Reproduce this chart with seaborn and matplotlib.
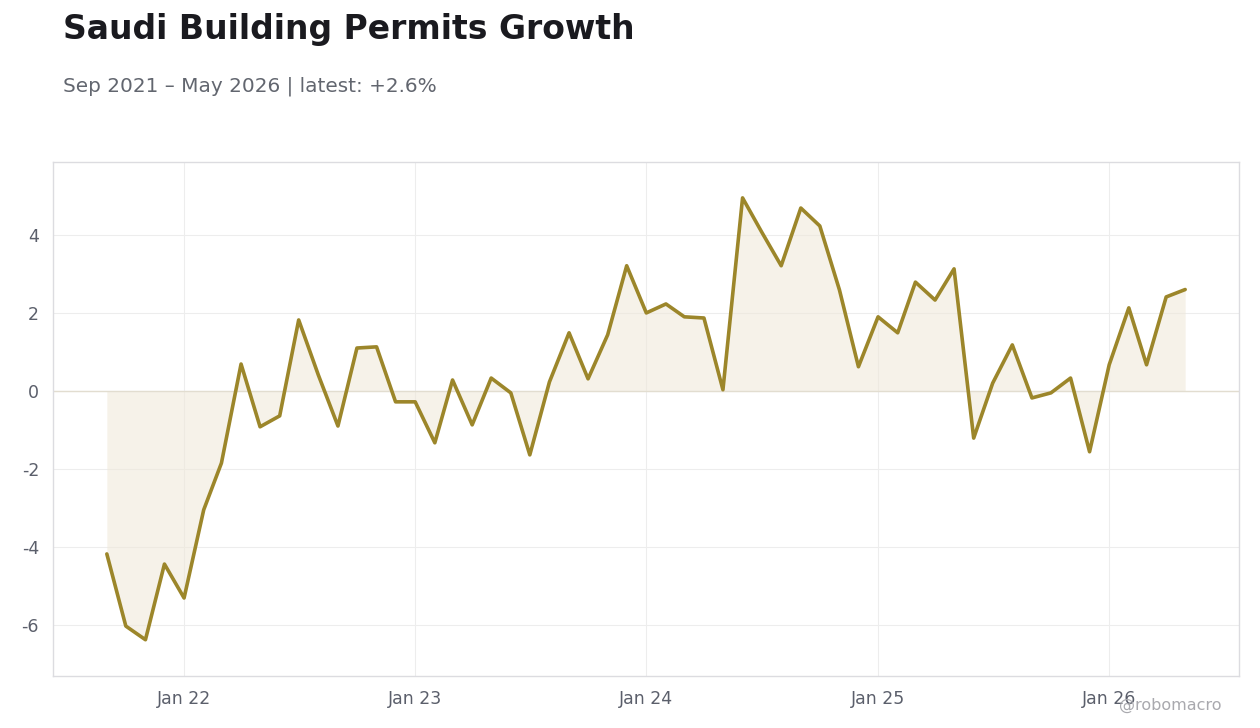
import numpy as np
import pandas as pd
import matplotlib
matplotlib.use("Agg")
import matplotlib.pyplot as plt
import matplotlib.dates as mdates
import seaborn as sns

# ---- data ----
start_month = "2021-09-01"
values = [
    -4.18, -6.03, -6.38, -4.44, -5.31, -3.05, -1.85, 0.69, -0.92, -0.64,
    1.82, 0.41, -0.90, 1.10, 1.13, -0.28, -0.28, -1.33, 0.28, -0.87,
    0.33, -0.05, -1.64, 0.23, 1.49, 0.31, 1.44, 3.21, 2.00, 2.23,
    1.90, 1.87, 0.03, 4.95, 4.08, 3.21, 4.69, 4.23, 2.59, 0.62,
    1.90, 1.49, 2.79, 2.33, 3.13, -1.21, 0.20, 1.18, -0.18, -0.05,
    0.33, -1.56, 0.67, 2.13, 0.67, 2.41, 2.60,
]
title = "Saudi Building Permits Growth"
subtitle = "Sep 2021 – May 2026 | latest: +2.6%"
watermark = "@robomacro"
y_ticks = [-6, -4, -2, 0, 2, 4]

dates = pd.date_range(start_month, periods=len(values), freq="MS")
df = pd.DataFrame({"date": dates, "value": values})

# ---- style ----
sns.set_theme(style="white")
plt.rcParams["font.family"] = ["DejaVu Sans"]
plt.rcParams["axes.unicode_minus"] = False

line_color = "#9C862A"
fill_color = "#EFE8D8"
text_gray = "#5B5F6B"
grid_color = "#EDEDED"
spine_color = "#DCDCE0"

fig = plt.figure(figsize=(12.6, 7.28), dpi=100)
ax = fig.add_axes([53 / 1260, 1 - 676 / 728, (1239 - 53) / 1260, (676 - 162) / 728])

ax.fill_between(df["date"], 0, df["value"], color=fill_color, alpha=0.55, linewidth=0)
ax.axhline(0, color="#E2DDD0", linewidth=1, zorder=1)
sns.lineplot(data=df, x="date", y="value", ax=ax, color=line_color, linewidth=2.6, zorder=3)

ax.set_xlim(pd.Timestamp("2021-06-08"), pd.Timestamp("2026-07-25"))
ax.set_ylim(-7.31, 5.87)
ax.set_yticks(y_ticks)
ax.set_yticklabels([str(t) for t in y_ticks])
ax.xaxis.set_major_locator(mdates.YearLocator(month=1, day=1))
ax.xaxis.set_major_formatter(mdates.DateFormatter("Jan %y"))
ax.set_xlabel("")
ax.set_ylabel("")

ax.grid(True, color=grid_color, linewidth=0.8)
ax.set_axisbelow(True)
for s in ax.spines.values():
    s.set_color(spine_color)
    s.set_linewidth(1.0)
ax.tick_params(axis="both", colors=spine_color, labelcolor=text_gray, labelsize=12.5,
               length=4, width=1, pad=6)

fig.text(63 / 1260, 1 - 30 / 728, title, fontsize=23.8, fontweight="bold",
         color="#1A1A1F", ha="left", va="center")
fig.text(63 / 1260, 1 - 86 / 728, subtitle, fontsize=14.4, color="#62666F",
         ha="left", va="center")
fig.text(1222 / 1260, 1 - 705 / 728, watermark, fontsize=11.5, color="#A9A9AE",
         ha="right", va="center")

fig.savefig("out.png", dpi=100, facecolor="white")
